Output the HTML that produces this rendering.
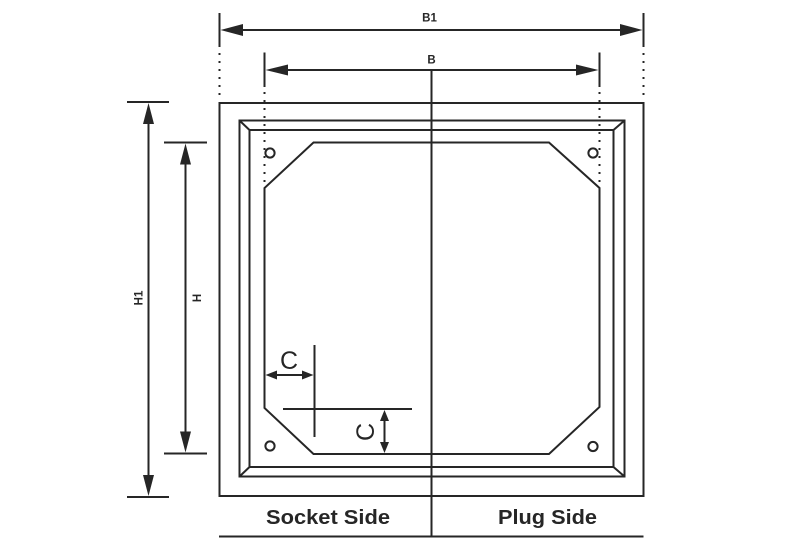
<!DOCTYPE html>
<html>
<head>
<meta charset="utf-8">
<style>
  html,body{margin:0;padding:0;background:#fff;}
  svg{display:block;}
</style>
</head>
<body>
<svg width="792" height="560" viewBox="0 0 792 560" xmlns="http://www.w3.org/2000/svg">
  <g stroke="#262626" stroke-width="2" fill="none">
    <!-- B1 dimension -->
    <line x1="219.5" y1="13" x2="219.5" y2="47"/>
    <line x1="643.5" y1="13" x2="643.5" y2="47"/>
    <line x1="225" y1="30" x2="638" y2="30"/>
    <!-- B dimension -->
    <line x1="264.5" y1="52.5" x2="264.5" y2="87"/>
    <line x1="599.5" y1="52.5" x2="599.5" y2="87"/>
    <line x1="270" y1="70" x2="594" y2="70"/>
    <!-- dotted extensions -->
    <line x1="219.5" y1="53" x2="219.5" y2="98" stroke-dasharray="2 6" stroke-width="2"/>
    <line x1="643.5" y1="53" x2="643.5" y2="98" stroke-dasharray="2 6" stroke-width="2"/>
    <line x1="264.5" y1="92" x2="264.5" y2="186" stroke-dasharray="2 6" stroke-width="2"/>
    <line x1="599.5" y1="92" x2="599.5" y2="186" stroke-dasharray="2 6" stroke-width="2"/>
    <!-- center line -->
    <line x1="431.5" y1="70" x2="431.5" y2="537"/>
    <!-- outer rect -->
    <rect x="219.5" y="103" width="424" height="393"/>
    <!-- bottom line -->
    <line x1="219" y1="536.5" x2="643.5" y2="536.5"/>
    <!-- frame -->
    <rect x="239.5" y="120.5" width="385" height="356"/>
    <rect x="249.5" y="130" width="364" height="337"/>
    <line x1="239.5" y1="120.5" x2="249.5" y2="130"/>
    <line x1="624.5" y1="120.5" x2="613.5" y2="130"/>
    <line x1="239.5" y1="476.5" x2="249.5" y2="467"/>
    <line x1="624.5" y1="476.5" x2="613.5" y2="467"/>
    <!-- octagon -->
    <polygon points="313.5,142.5 549,142.5 599.5,188 599.5,407 549,454 313.5,454 264.5,408 264.5,188"/>
    <!-- holes -->
    <circle cx="270" cy="153" r="4.6"/>
    <circle cx="593" cy="153" r="4.6"/>
    <circle cx="270" cy="446" r="4.6"/>
    <circle cx="593" cy="446.5" r="4.6"/>
    <!-- H1 dimension -->
    <line x1="127" y1="102" x2="169" y2="102"/>
    <line x1="127" y1="497" x2="169" y2="497"/>
    <line x1="148.5" y1="110" x2="148.5" y2="490"/>
    <!-- H dimension -->
    <line x1="164" y1="142.5" x2="207" y2="142.5"/>
    <line x1="164" y1="453.5" x2="207" y2="453.5"/>
    <line x1="185.5" y1="150" x2="185.5" y2="446"/>
    <!-- C horizontal -->
    <line x1="314.5" y1="345" x2="314.5" y2="437"/>
    <line x1="270" y1="375" x2="309" y2="375"/>
    <!-- C vertical -->
    <line x1="283" y1="409" x2="412" y2="409"/>
    <line x1="384.5" y1="414" x2="384.5" y2="449"/>
  </g>
  <g fill="#262626" stroke="none">
    <!-- B1 arrows -->
    <polygon points="220.5,30 243,24 243,36"/>
    <polygon points="642.5,30 620,24 620,36"/>
    <!-- B arrows -->
    <polygon points="265.5,70 288,64.5 288,75.5"/>
    <polygon points="598.5,70 576,64.5 576,75.5"/>
    <!-- H1 arrows -->
    <polygon points="148.5,103 143,124 154,124"/>
    <polygon points="148.5,496 143,475 154,475"/>
    <!-- H arrows -->
    <polygon points="185.5,143.5 180,164.5 191,164.5"/>
    <polygon points="185.5,452.5 180,431.5 191,431.5"/>
    <!-- C horizontal arrows -->
    <polygon points="265.5,375 277,370.5 277,379.5"/>
    <polygon points="313.5,375 302,370.5 302,379.5"/>
    <!-- C vertical arrows -->
    <polygon points="384.5,410 380,421 389,421"/>
    <polygon points="384.5,453 380,442 389,442"/>
  </g>
  <g fill="#262626" font-family="Liberation Sans, Arial, sans-serif">
    <text x="429.5" y="21.5" font-size="11.5" font-weight="bold" text-anchor="middle">B1</text>
    <text x="431.5" y="63.5" font-size="11.5" font-weight="bold" text-anchor="middle">B</text>
    <text transform="translate(142.5,298) rotate(-90)" font-size="11.5" font-weight="bold" text-anchor="middle">H1</text>
    <text transform="translate(201,298) rotate(-90)" font-size="11.5" font-weight="bold" text-anchor="middle">H</text>
    <text x="289" y="369" font-size="25" text-anchor="middle">C</text>
    <text transform="translate(374,432) rotate(-90)" font-size="25" text-anchor="middle">C</text>
    <text x="266" y="524" font-size="20.5" font-weight="bold" textLength="124" lengthAdjust="spacingAndGlyphs">Socket Side</text>
    <text x="498" y="524" font-size="20.5" font-weight="bold" textLength="99" lengthAdjust="spacingAndGlyphs">Plug Side</text>
  </g>
</svg>
</body>
</html>
